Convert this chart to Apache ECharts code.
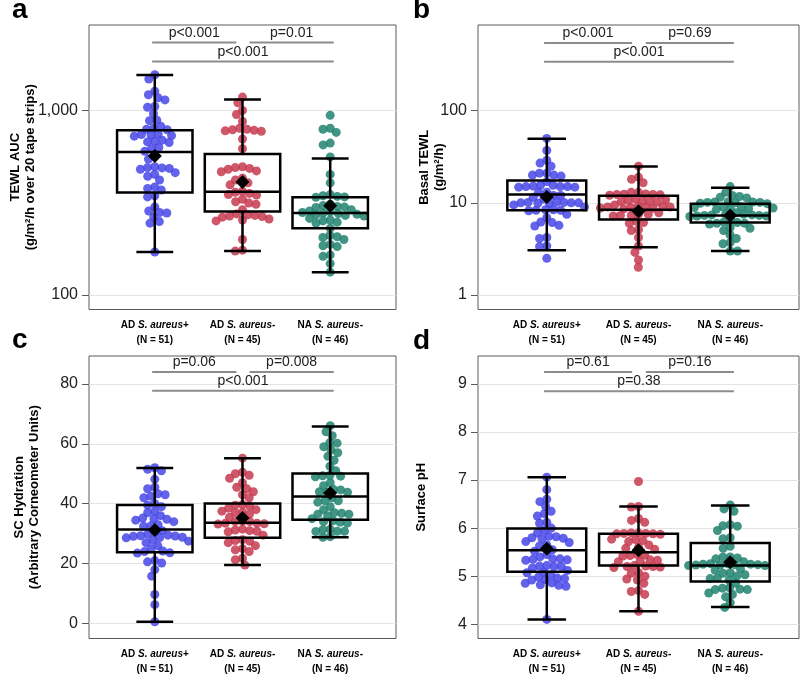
<!DOCTYPE html>
<html><head><meta charset="utf-8">
<script src="https://cdn.jsdelivr.net/npm/echarts@6/dist/echarts.min.js"></script>
<style>html,body{margin:0;padding:0;background:#fff}#c{width:800px;height:674px}</style>
</head><body><div id="c"></div>
<script>
// ---------------- DATA ----------------
const categoryPrefix = ['AD', 'AD', 'NA'];
const categorySpecies = 'S. aureus';
const categorySuffix = ['+', '-', '-'];
const groupN = [51, 45, 46];

// Panel a: TEWL AUC
const tewlAUC_ADpos = [1560,1480,1270,1215,1170,1140,1050,1040,960,885,880,820,800,790,785,745,740,735,730,725,690,680,675,670,630,620,600,570,545,495,490,488,485,480,460,450,440,420,385,378,370,345,340,300,285,280,278,265,250,245,171];
const tewlAUC_ADneg = [1180,1100,1000,950,870,800,790,785,780,775,770,700,620,495,490,485,480,470,465,430,420,405,395,365,360,355,350,348,330,320,315,310,290,275,272,270,268,266,264,258,255,252,200,175,173];
const tewlAUC_NAneg = [940,800,790,760,665,650,560,450,405,350,345,342,340,338,310,305,302,300,298,290,285,282,280,278,276,274,272,270,268,260,255,252,248,245,230,210,207,205,200,188,185,183,165,162,148,133];
const tewlAUC_box = [[171,359,596,780,1553],[173,283,362,581,1147],[133,230,278,339,548]]; // min,q1,median,q3,max
const tewlAUC_mean = [566, 409, 304];
const tewlAUC_p = ['p<0.001', 'p=0.01', 'p<0.001'];
const tewlAUC_ticks = [100, 1000];

// Panel b: Basal TEWL
const basal_ADpos = [50,37,29,27,25,21,20,21,20,19.5,17,15.5,15,14.8,15,15.2,15.5,14.8,15,13,12,13,12,10,10.1,9.9,10,10.2,9.8,10,10.1,8.3,8.4,8.2,8.3,8.4,6.1,6.9,6.2,5.7,5.6,4.1,4.2,3.4,3.35,2.5,11,11.5,9,9.5,7.5];
const basal_ADneg = [25,19,18,16.5,13,13,12.5,12.3,12.2,12.4,12.1,12.3,10.5,10.6,10.3,10.2,10.4,9,9.1,8.9,8.8,8.7,8.9,9,9.1,7.5,7.3,7.5,7.3,6.3,6.0,6.1,5.0,5.1,4.2,3.4,2.9,2.4,2.0,11,10.8,9.5,8.6,7.8,7.2];
const basal_NAneg = [15,12,11.5,11.7,11.3,10.3,10.2,10,10.1,9.9,10.2,10.1,9.8,9,8.7,9,8.8,8.9,8.6,7.5,7.4,7.3,7.2,7.5,7.4,7.1,7.3,7.2,6.2,6.0,5.9,6.0,6.1,5.3,5.4,5.0,4.5,4.1,3.7,3.6,3.0,3.0,8.5,7.8,6.6,13];
const basal_box = [[3.06,8.3,12.3,17.5,49.5],[3.3,6.6,8.4,11.9,24.8],[3.0,6.1,7.3,9.8,14.6]];
const basal_mean = [11.6, 8.1, 7.3];
const basal_p = ['p<0.001', 'p=0.69', 'p<0.001'];
const basal_ticks = [1, 10, 100];

// Panel c: SC Hydration
const hydr_ADpos = [52,51.5,51,48.2,45.5,45,43.3,43,42,42.5,40,39,39.5,37.5,35,34.5,34.8,34,35.2,32.5,33,32.6,29.8,29.3,28.7,29.5,29.2,28.8,29.1,28.6,27.5,27,27.8,24,23.5,23.6,24.2,21,20.2,20.6,18,15.8,9.7,6.3,0.6,37,36,31,30.5,26,25];
const hydr_ADneg = [55.2,50.5,50,49.5,48.5,47,45.5,45,43,42,39.5,39.2,39.7,38.5,37,36.5,37.2,37.5,34,33.5,33.2,34.2,33.3,34,33.5,31.5,30.8,31,31.2,30.6,28,27.5,27,27.7,25,24,24.6,21.8,21.3,19.5,44,38,35.5,29.5,26];
const hydr_NAneg = [66,62.7,60.2,60.4,59,57,55.8,52.5,49.2,49,49.3,49.5,47,44,43.8,44.8,43.8,44.6,41,40.5,41,39,38,37,36.5,36.5,36.8,36,34,33.5,34.3,33.8,31.5,30.8,30.8,31.3,30.7,29,28.8,64,58,54.5,51,46,42,35];
const hydr_box = [[0.56,23.8,31.4,39.6,51.9],[19.5,28.6,33.6,40.1,55.2],[28.8,34.6,42.4,50.1,65.8]];
const hydr_mean = [31.2, 35.2, 43.6];
const hydr_p = ['p=0.06', 'p=0.008', 'p<0.001'];
const hydr_ticks = [0, 20, 40, 60, 80];

// Panel d: Surface pH
const ph_ADpos = [7.06,6.8,6.6,6.55,6.45,6.35,6.3,6.12,6.25,6.1,5.83,5.8,5.78,5.82,5.79,5.72,5.7,5.63,5.52,5.55,5.36,5.33,5.35,5.34,5.36,5.2,5.22,5.21,5.17,5.2,5.07,5.03,5.08,4.95,4.93,4.92,4.96,4.85,4.81,4.79,4.82,4.86,4.1,6.0,5.95,5.9,5.65,5.45,5.4,5.12,4.98];
const ph_ADneg = [6.97,6.45,6.44,6.2,6.16,6.12,5.9,5.88,5.89,5.87,5.9,5.88,5.89,5.76,5.74,5.77,5.72,5.6,5.56,5.58,5.45,5.43,5.42,5.44,5.34,5.3,5.31,5.33,5.22,5.2,5.21,5.19,5.18,5.2,5.07,5.06,4.92,4.94,4.85,4.7,4.68,4.62,4.27,5.65,5.0];
const ph_NAneg = [6.48,6.4,6.35,6.05,6.04,6.07,5.95,5.8,5.78,5.62,5.58,5.38,5.4,5.36,5.4,5.22,5.23,5.24,5.25,5.26,5.22,5.23,5.24,5.25,5.26,5.07,5.03,5.06,4.96,4.92,4.95,4.75,4.72,4.76,4.72,4.73,4.62,4.57,4.45,4.35,5.3,5.15,5.12,5.0,4.85,4.65];
const ph_box = [[4.10,5.09,5.54,5.99,7.06],[4.27,5.22,5.50,5.88,6.45],[4.36,4.89,5.22,5.69,6.47]];
const ph_mean = [5.57, 5.54, 5.29];
const ph_p = ['p=0.61', 'p=0.16', 'p=0.38'];
const ph_ticks = [4, 5, 6, 7, 8, 9];

// ---------------- LAYOUT / STYLE ----------------
const FONT = 'Arial, "Liberation Sans", Helvetica, sans-serif';
const groupColors = ['#4747e6', '#c63a4f', '#218270'];
const bracketSpans = [[0.97, 1.93], [2.08, 3.04], [0.97, 3.04]];

const panels = [
  { letter: 'a', lx: 12, ly: -4, groups: [tewlAUC_ADpos, tewlAUC_ADneg, tewlAUC_NAneg], box: tewlAUC_box, mean: tewlAUC_mean, p: tewlAUC_p, ticks: tewlAUC_ticks,
    type: 'log', min: 83.5, max: 2900, grid: [89, 25, 307, 284.5], nameGap: 51,
    name: 'TEWL AUC\n(g/m²/h over 20 tape strips)', levels: [2333, 2333, 1841], fmt: v => Number(v).toLocaleString('en-US') },
  { letter: 'b', lx: 413, ly: -4, groups: [basal_ADpos, basal_ADneg, basal_NAneg], box: basal_box, mean: basal_mean, p: basal_p, ticks: basal_ticks,
    type: 'log', min: 0.696, max: 850, grid: [478, 25, 321, 284.5], nameGap: 31,
    name: 'Basal TEWL\n(g/m²/h)', levels: [543, 543, 339], fmt: v => String(v) },
  { letter: 'c', lx: 12, ly: 326, groups: [hydr_ADpos, hydr_ADneg, hydr_NAneg], box: hydr_box, mean: hydr_mean, p: hydr_p, ticks: hydr_ticks,
    type: 'value', min: -5, max: 89.3, grid: [89, 356, 307, 283.5], nameGap: 47,
    name: 'SC Hydration\n(Arbitrary Corneometer Units)', levels: [84, 84, 77.7], fmt: v => String(v) },
  { letter: 'd', lx: 413, ly: 327, groups: [ph_ADpos, ph_ADneg, ph_NAneg], box: ph_box, mean: ph_mean, p: ph_p, ticks: ph_ticks,
    type: 'value', min: 3.703, max: 9.581, grid: [478, 356, 321, 283.5], nameGap: 49,
    name: 'Surface pH', levels: [9.25, 9.25, 8.85], fmt: v => String(v) }
];

function catLabel(v) {
  const r = Math.round(v);
  if (Math.abs(v - r) > 1e-6 || r < 1 || r > 3) return '';
  const i = r - 1;
  return '{b|' + categoryPrefix[i] + ' }{i|' + categorySpecies + '}{b|' + categorySuffix[i] + '}\n{b|(N = ' + groupN[i] + ')}';
}

function swarm(ys, d) {
  const order = ys.map((y, i) => i).sort((a, b) => ys[a] - ys[b]);
  const placed = [];
  const xs = new Array(ys.length).fill(0);
  order.forEach(i => {
    const y = ys[i];
    const near = placed.filter(p => Math.abs(p.y - y) < d);
    const cands = [0];
    near.forEach(p => {
      const dx = Math.sqrt(d * d - (p.y - y) * (p.y - y));
      cands.push(p.x - dx, p.x + dx);
    });
    cands.sort((a, b) => (Math.abs(a) - Math.abs(b)) || (a - b));
    for (const c of cands) {
      if (near.every(p => (p.x - c) * (p.x - c) + (p.y - y) * (p.y - y) >= d * d - 1e-6)) {
        xs[i] = c; placed.push({ x: c, y: y }); break;
      }
    }
  });
  return xs;
}

const chart = echarts.init(document.getElementById('c'), null, { renderer: 'canvas' });
const grids = [], xAxes = [], yAxes = [], series = [], graphics = [];
const richX = {
  b: { fontSize: 10, fontWeight: 'bold', fontFamily: FONT, color: '#000', lineHeight: 15 },
  i: { fontSize: 10, fontWeight: 'bold', fontStyle: 'italic', fontFamily: FONT, color: '#000', lineHeight: 15 }
};

panels.forEach((p, k) => {
  grids.push({ left: p.grid[0], top: p.grid[1], width: p.grid[2], height: p.grid[3], show: true,
    borderColor: '#5a5a5a', borderWidth: 1, containLabel: false });
  xAxes.push({ type: 'value', gridIndex: k, min: 0.25, max: 3.75,
    axisLine: { show: false }, axisTick: { show: false }, splitLine: { show: false },
    axisLabel: { customValues: [1, 2, 3], formatter: catLabel, margin: 8, rich: richX } });
  yAxes.push({ type: p.type, logBase: 10, gridIndex: k, min: p.min, max: p.max,
    axisLine: { show: false },
    axisTick: { show: true, length: 7, customValues: p.ticks, lineStyle: { color: '#5a5a5a', width: 1 } },
    axisLabel: { customValues: p.ticks, formatter: p.fmt, fontSize: 16, color: '#222', fontFamily: FONT, margin: 11 },
    splitLine: { show: true, lineStyle: { color: '#e4e4e4', width: 1 } },
    name: p.name, nameLocation: 'middle', nameGap: p.nameGap, nameRotate: 90, nameMoveOverlap: false,
    nameTextStyle: { fontSize: 13, fontWeight: 'bold', fontFamily: FONT, color: '#000', lineHeight: 15 } });

  // box plots
  series.push({
    type: 'custom', xAxisIndex: k, yAxisIndex: k, z: 3, silent: true,
    encode: { x: 0, y: [1, 2, 3, 4, 5] },
    data: p.box.map((b, i) => [i + 1].concat(b)),
    renderItem: (params, api) => {
      const x = api.value(0);
      const c = [1, 2, 3, 4, 5].map(j => api.coord([x, api.value(j)]));
      const unit = api.coord([x + 1, api.value(3)])[0] - c[2][0];
      const cx = c[0][0], hw = 0.43 * unit, cw = 0.21 * unit;
      const st = { stroke: '#000', lineWidth: 2.5, fill: null };
      const ln = (x1, y1, x2, y2) => ({ type: 'line', shape: { x1, y1, x2, y2 }, style: st });
      return { type: 'group', children: [
        ln(cx, c[3][1], cx, c[4][1]),
        ln(cx, c[1][1], cx, c[0][1]),
        ln(cx - cw, c[4][1], cx + cw, c[4][1]),
        ln(cx - cw, c[0][1], cx + cw, c[0][1]),
        { type: 'rect', shape: { x: cx - hw, y: c[3][1], width: 2 * hw, height: c[1][1] - c[3][1] }, style: { stroke: '#000', lineWidth: 2.5, fill: 'none' } },
        ln(cx - hw, c[2][1], cx + hw, c[2][1])
      ] };
    }
  });
  // means
  series.push({ type: 'scatter', xAxisIndex: k, yAxisIndex: k, z: 5, silent: true, symbol: 'diamond', symbolSize: 14,
    itemStyle: { color: '#000', opacity: 1 }, data: p.mean.map((m, i) => [i + 1, m]) });
  // significance brackets
  series.push({
    type: 'custom', xAxisIndex: k, yAxisIndex: k, z: 3, silent: true,
    encode: { x: [0, 2], y: 1 },
    data: bracketSpans.map((s, i) => [s[0], p.levels[i], s[1]]),
    renderItem: (params, api) => {
      const a = api.coord([api.value(0), api.value(1)]);
      const b = api.coord([api.value(2), api.value(1)]);
      return { type: 'group', children: [
        { type: 'line', shape: { x1: a[0], y1: a[1], x2: b[0], y2: b[1] }, style: { stroke: '#8c8c8c', lineWidth: 2 } },
        { type: 'text', style: { text: p.p[params.dataIndex], x: (a[0] + b[0]) / 2, y: a[1] - 9.5, align: 'center', verticalAlign: 'middle',
          font: '14px ' + FONT, fill: '#222' } }
      ] };
    }
  });
  graphics.push({ type: 'text', left: p.lx, top: p.ly, style: { text: p.letter, font: 'bold 28px ' + FONT, fill: '#000' } });
});

chart.setOption({ animation: false, backgroundColor: '#fff', grid: grids, xAxis: xAxes, yAxis: yAxes, series: series, graphic: graphics });

// beeswarm dots positioned through the axes' own scales
panels.forEach((p, k) => {
  p.groups.forEach((vals, g) => {
    const pix = vals.map(v => chart.convertToPixel({ gridIndex: k }, [g + 1, v]));
    const unit = chart.convertToPixel({ gridIndex: k }, [g + 2, vals[0]])[0] - pix[0][0];
    const offs = swarm(pix.map(q => q[1]), 7.3);
    series.push({ type: 'scatter', xAxisIndex: k, yAxisIndex: k, z: 2, silent: true, symbol: 'circle', symbolSize: 9,
      itemStyle: { color: groupColors[g], opacity: 0.85 },
      data: vals.map((v, i) => [g + 1 + offs[i] / unit, v]) });
  });
});
chart.setOption({ series: series });
</script>
</body></html>
